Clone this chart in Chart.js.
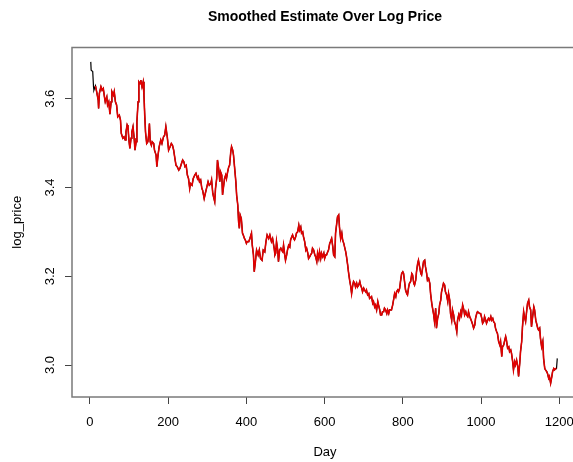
<!DOCTYPE html>
<html>
<head>
<meta charset="utf-8">
<script src="https://cdn.jsdelivr.net/npm/chart.js@4"></script>
<style>
  html, body { margin: 0; padding: 0; overflow: hidden; background: #fff; }
  canvas { display: block; }
</style>
</head>
<body>
<canvas id="chart" width="580" height="462"></canvas>
<script>
// Trading day index
const days = [
  2, 3, 7, 9, 10, 14, 17, 21, 22, 24,
  28, 31, 34, 37, 39, 43, 45, 48, 51, 54,
  56, 60, 62, 65, 68, 71, 75, 78, 80, 84,
  87, 90, 92, 95, 97, 100, 102, 105, 107, 110,
  113, 115, 118, 120, 123, 125, 128, 130, 133, 136,
  138, 140, 142, 145, 148, 150, 152, 154, 157, 159,
  163, 165, 169, 171, 174, 177, 181, 184, 188, 191,
  194, 198, 201, 205, 208, 211, 214, 217, 220, 223,
  227, 230, 234, 237, 240, 243, 246, 249, 252, 255,
  257, 261, 264, 268, 271, 275, 277, 280, 283, 286,
  288, 292, 295, 298, 302, 305, 309, 311, 314, 316,
  319, 321, 324, 326, 329, 332, 334, 337, 339, 342,
  344, 347, 349, 352, 355, 357, 360, 362, 365, 367,
  370, 373, 375, 378, 380, 382, 384, 387, 390, 392,
  395, 397, 400, 402, 406, 409, 413, 415, 418, 420,
  423, 426, 430, 433, 436, 440, 443, 447, 450, 453,
  457, 460, 464, 467, 471, 473, 475, 477, 480, 482,
  485, 488, 490, 493, 495, 498, 500, 503, 505, 508,
  511, 513, 516, 518, 521, 523, 526, 528, 531, 534,
  536, 539, 541, 544, 546, 549, 552, 554, 557, 559,
  562, 564, 567, 569, 572, 575, 577, 580, 582, 585,
  587, 590, 592, 595, 598, 600, 603, 605, 608, 610,
  613, 615, 618, 621, 623, 626, 628, 631, 633, 636,
  638, 641, 644, 646, 649, 651, 654, 656, 659, 661,
  664, 667, 669, 672, 674, 677, 679, 682, 684, 687,
  690, 692, 695, 697, 700, 702, 705, 707, 710, 713,
  715, 720, 723, 725, 728, 730, 733, 736, 738, 741,
  743, 746, 748, 751, 753, 756, 759, 761, 764, 766,
  769, 771, 774, 777, 779, 782, 784, 787, 789, 792,
  794, 797, 800, 802, 805, 807, 810, 812, 815, 817,
  820, 823, 825, 828, 830, 833, 835, 838, 840, 843,
  846, 848, 851, 853, 856, 858, 861, 863, 866, 869,
  871, 874, 876, 879, 881, 884, 886, 889, 892, 894,
  897, 899, 902, 904, 907, 909, 912, 915, 917, 920,
  922, 925, 927, 930, 932, 935, 938, 940, 943, 945,
  948, 950, 953, 956, 958, 961, 963, 966, 968, 971,
  973, 976, 979, 981, 984, 986, 989, 991, 994, 996,
  999, 1002, 1004, 1007, 1009, 1012, 1014, 1017, 1019, 1022,
  1025, 1027, 1030, 1032, 1035, 1037, 1040, 1042, 1045, 1048,
  1050, 1053, 1055, 1058, 1060, 1063, 1065, 1068, 1071, 1073,
  1076, 1078, 1081, 1083, 1086, 1088, 1091, 1094, 1096, 1099,
  1101, 1104, 1106, 1109, 1111, 1114, 1117, 1119, 1122, 1124,
  1127, 1129, 1132, 1135, 1137, 1140, 1142, 1145, 1147, 1150,
  1152, 1155, 1158, 1160, 1163, 1165, 1168, 1170, 1173, 1175,
  1178, 1181, 1183, 1186, 1188, 1191, 1193, 1195
];

// Observed log price for each day
const logPrice = [
  3.683, 3.664, 3.661, 3.627, 3.619, 3.629, 3.616, 3.597, 3.578, 3.612,
  3.627, 3.619, 3.623, 3.604, 3.593, 3.604, 3.586, 3.593, 3.565, 3.593,
  3.616, 3.608, 3.616, 3.593, 3.586, 3.559, 3.563, 3.552, 3.522, 3.511,
  3.514, 3.507, 3.525, 3.541, 3.537, 3.503, 3.488, 3.511, 3.525, 3.537,
  3.511, 3.484, 3.503, 3.548, 3.593, 3.638, 3.634, 3.642, 3.627, 3.638,
  3.608, 3.563, 3.525, 3.499, 3.503, 3.518, 3.544, 3.503, 3.495, 3.503,
  3.499, 3.484, 3.473, 3.447, 3.473, 3.492, 3.507, 3.499, 3.514, 3.518,
  3.537, 3.511, 3.484, 3.492, 3.499, 3.495, 3.484, 3.466, 3.450, 3.447,
  3.439, 3.443, 3.454, 3.462, 3.458, 3.447, 3.450, 3.428, 3.420, 3.398,
  3.409, 3.405, 3.420, 3.428, 3.432, 3.420, 3.424, 3.413, 3.417, 3.398,
  3.394, 3.375, 3.387, 3.398, 3.413, 3.405, 3.409, 3.417, 3.387, 3.379,
  3.368, 3.398, 3.420, 3.462, 3.443, 3.413, 3.435, 3.428, 3.383, 3.405,
  3.420, 3.428, 3.420, 3.435, 3.447, 3.450, 3.480, 3.492, 3.484, 3.473,
  3.443, 3.413, 3.383, 3.360, 3.323, 3.308, 3.338, 3.330, 3.297, 3.293,
  3.285, 3.282, 3.274, 3.278, 3.278, 3.285, 3.297, 3.270, 3.248, 3.210,
  3.233, 3.259, 3.248, 3.259, 3.240, 3.236, 3.259, 3.255, 3.278, 3.293,
  3.285, 3.293, 3.278, 3.285, 3.263, 3.248, 3.252, 3.278, 3.259, 3.233,
  3.259, 3.263, 3.259, 3.255, 3.270, 3.248, 3.236, 3.248, 3.259, 3.270,
  3.266, 3.282, 3.289, 3.293, 3.285, 3.282, 3.289, 3.297, 3.300, 3.315,
  3.304, 3.311, 3.297, 3.300, 3.289, 3.278, 3.259, 3.263, 3.252, 3.240,
  3.244, 3.248, 3.252, 3.263, 3.259, 3.248, 3.244, 3.233, 3.252, 3.240,
  3.255, 3.240, 3.252, 3.244, 3.252, 3.240, 3.248, 3.248, 3.255, 3.259,
  3.274, 3.278, 3.285, 3.266, 3.248, 3.244, 3.297, 3.319, 3.334, 3.338,
  3.311, 3.285, 3.297, 3.282, 3.274, 3.266, 3.255, 3.244, 3.225, 3.210,
  3.191, 3.176, 3.161, 3.180, 3.188, 3.184, 3.176, 3.184, 3.176, 3.180,
  3.188, 3.180, 3.173, 3.165, 3.173, 3.169, 3.165, 3.169, 3.158, 3.161,
  3.150, 3.154, 3.139, 3.143, 3.131, 3.135, 3.124, 3.143, 3.135, 3.124,
  3.113, 3.113, 3.120, 3.120, 3.128, 3.124, 3.116, 3.124, 3.116, 3.124,
  3.124, 3.124, 3.135, 3.150, 3.161, 3.154, 3.165, 3.169, 3.165, 3.173,
  3.188, 3.206, 3.210, 3.206, 3.184, 3.169, 3.161, 3.158, 3.176, 3.184,
  3.188, 3.206, 3.203, 3.184, 3.180, 3.191, 3.210, 3.229, 3.236, 3.221,
  3.206, 3.203, 3.221, 3.233, 3.236, 3.221, 3.206, 3.191, 3.195, 3.184,
  3.161, 3.139, 3.128, 3.113, 3.098, 3.128, 3.083, 3.105, 3.116, 3.135,
  3.146, 3.165, 3.176, 3.184, 3.180, 3.165, 3.158, 3.143, 3.161, 3.146,
  3.116, 3.101, 3.124, 3.113, 3.098, 3.090, 3.075, 3.101, 3.113, 3.105,
  3.120, 3.113, 3.135, 3.124, 3.113, 3.120, 3.113, 3.109, 3.120, 3.109,
  3.105, 3.098, 3.090, 3.083, 3.090, 3.105, 3.116, 3.120, 3.118, 3.116,
  3.116, 3.105, 3.094, 3.098, 3.109, 3.101, 3.094, 3.101, 3.105, 3.101,
  3.109, 3.101, 3.105, 3.098, 3.094, 3.083, 3.075, 3.071, 3.053, 3.045,
  3.053, 3.019, 3.041, 3.045, 3.053, 3.064, 3.056, 3.038, 3.041, 3.030,
  3.034, 3.026, 3.007, 2.989, 3.007, 3.000, 3.011, 2.996, 2.974, 3.004,
  3.030, 3.053, 3.086, 3.120, 3.109, 3.098, 3.124, 3.139, 3.146, 3.131,
  3.124, 3.086, 3.109, 3.131, 3.124, 3.101, 3.094, 3.083, 3.079, 3.083,
  3.060, 3.041, 3.053, 3.015, 2.992, 2.989, 2.985, 2.981, 2.970, 2.974,
  2.959, 2.974, 2.985, 2.992, 2.989, 2.992, 2.992, 3.015
];

// Days covered by the smoothed estimate
const smoothFrom = 14;
const smoothTo = 1193;

// Axis ticks
const xTicks = [0, 200, 400, 600, 800, 1000, 1200];
const yTicks = [3.0, 3.2, 3.4, 3.6];

const pricePoints = days.map((d, i) => ({ x: d, y: logPrice[i] }));
const smoothPoints = pricePoints.filter(p => p.x >= smoothFrom && p.x <= smoothTo);

// Box around the plotting region
const plotFrame = {
  id: 'plotFrame',
  afterDraw(chart) {
    const { ctx, chartArea: a } = chart;
    ctx.save();
    ctx.strokeStyle = '#7a7a7a';
    ctx.lineWidth = 1.5;
    ctx.strokeRect(a.left, a.top, a.right - a.left, a.bottom - a.top);
    ctx.restore();
  }
};

Chart.defaults.font.family = '"Liberation Sans", Arial, Helvetica, sans-serif';
Chart.defaults.color = '#000';

const tickGrid = {
  drawOnChartArea: false,
  drawTicks: true,
  tickLength: 7,
  color: '#444',
  lineWidth: 1
};

new Chart(document.getElementById('chart'), {
  type: 'line',
  data: {
    datasets: [
      {
        label: 'Smoothed estimate',
        data: smoothPoints,
        borderColor: '#e00000',
        borderWidth: 1.6,
        pointRadius: 0,
        tension: 0,
        fill: false
      },
      {
        label: 'log_price',
        data: pricePoints,
        borderColor: '#000',
        borderWidth: 1.2,
        pointRadius: 0,
        tension: 0,
        fill: false
      }
    ]
  },
  options: {
    responsive: false,
    animation: false,
    devicePixelRatio: 1,
    layout: { padding: { left: 0, right: 2, top: 0, bottom: 0 } },
    plugins: {
      legend: { display: false },
      tooltip: { enabled: false },
      title: {
        display: true,
        text: 'Smoothed Estimate Over Log Price',
        fullSize: false,
        color: '#000',
        font: { size: 14, weight: 'bold' },
        padding: { top: 8.5, bottom: 22.2 }
      }
    },
    scales: {
      x: {
        type: 'linear',
        min: -46,
        max: 1248,
        afterBuildTicks: axis => { axis.ticks = xTicks.map(v => ({ value: v })); },
        afterFit: axis => {
          axis.height = 65;
          axis.paddingLeft = 0;
          axis.paddingRight = 0;
        },
        grid: tickGrid,
        border: { display: false },
        ticks: {
          padding: 10.5,
          autoSkip: false,
          maxRotation: 0,
          font: { size: 13 },
          color: '#000',
          callback: v => String(v)
        },
        title: {
          display: true,
          text: 'Day',
          color: '#000',
          font: { size: 13 },
          padding: { top: 0, bottom: 1.5 }
        }
      },
      y: {
        type: 'linear',
        min: 2.9279,
        max: 3.7154,
        afterBuildTicks: axis => { axis.ticks = yTicks.map(v => ({ value: v })); },
        afterFit: axis => {
          axis.width = 72;
          axis.paddingTop = 0;
          axis.paddingBottom = 0;
        },
        grid: tickGrid,
        border: { display: false },
        ticks: {
          padding: 6,
          minRotation: 90,
          maxRotation: 90,
          crossAlign: 'center',
          autoSkip: false,
          font: { size: 13 },
          color: '#000',
          callback: v => v.toFixed(1)
        },
        title: {
          display: true,
          text: 'log_price',
          color: '#000',
          font: { size: 13 },
          padding: { top: 10, bottom: 0 }
        }
      }
    }
  },
  plugins: [plotFrame]
});
</script>
</body>
</html>
